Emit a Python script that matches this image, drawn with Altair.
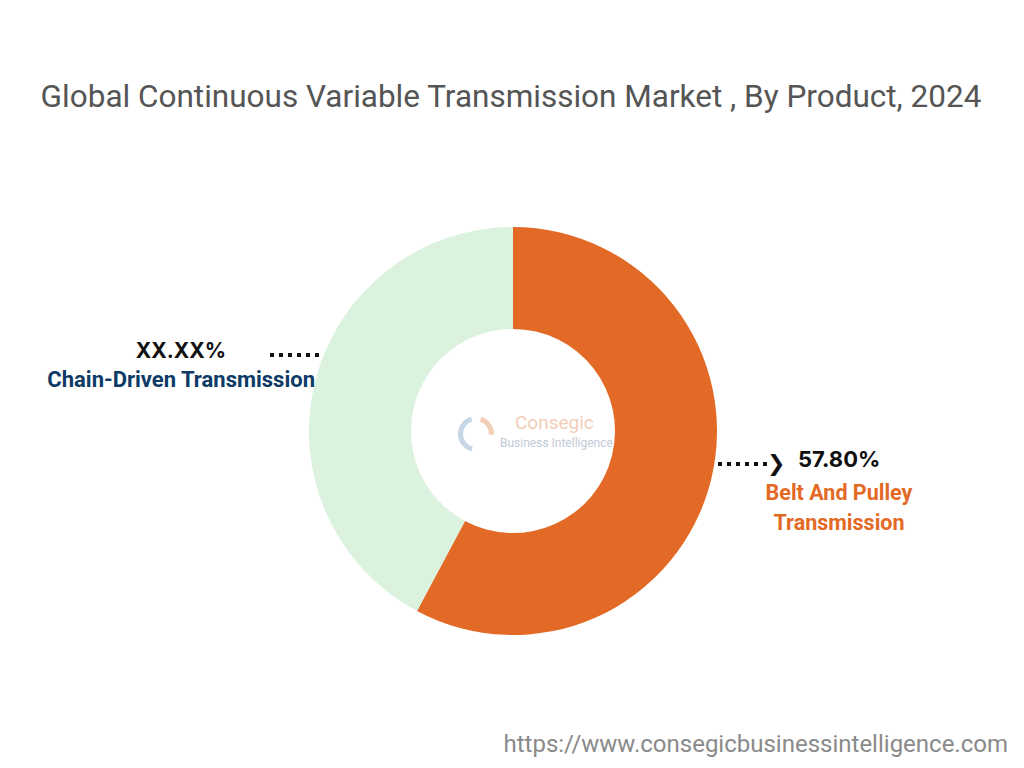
import altair as alt
import pandas as pd

categories = ["Belt And Pulley Transmission", "Chain-Driven Transmission"]
values = [57.80, 42.20]
colors = ["#E36A26", "#DBF2DF"]
order = [1, 2]

df = pd.DataFrame({"category": categories, "value": values, "order": order})

W, H = 1024, 768
CX, CY = 513, 431

donut = alt.Chart(df).mark_arc(outerRadius=204, innerRadius=102).encode(
    theta=alt.Theta("value:Q", stack=True),
    order=alt.Order("order:Q"),
    color=alt.Color("category:N", scale=alt.Scale(domain=categories, range=colors), legend=None),
    x=alt.value(CX), y=alt.value(CY),
)

def txt(text, x, y, size, color, weight="normal", font="Roboto", align="left"):
    d = pd.DataFrame({"t": [text]})
    return alt.Chart(d).mark_text(
        fontSize=size, color=color, fontWeight=weight, font=font, align=align, baseline="middle"
    ).encode(text="t:N", x=alt.value(x), y=alt.value(y))

title = txt("Global Continuous Variable Transmission Market , By Product, 2024", 511, 98, 31.5, "#555555", font="Roboto", align="center")

left_pct = txt("XX.XX%", 226, 352, 21, "#111111", weight="bold", font="Inter", align="right")
left_lab = txt("Chain-Driven Transmission", 315, 380, 22, "#0D3B66", weight="bold", font="Roboto", align="right")
right_pct = txt("57.80%", 798, 460, 22, "#111111", weight="bold", font="Inter")
right_lab1 = txt("Belt And Pulley", 839, 494, 21.5, "#E36A26", weight="bold", font="Roboto", align="center")
right_lab2 = txt("Transmission", 839, 524, 21.5, "#E36A26", weight="bold", font="Roboto", align="center")

dots_l = alt.Chart(pd.DataFrame({"a": [0]})).mark_rule(
    color="#111111", strokeWidth=4, strokeDash=[4, 5]
).encode(x=alt.value(270), x2=alt.value(322), y=alt.value(355))
dots_r = alt.Chart(pd.DataFrame({"a": [0]})).mark_rule(
    color="#111111", strokeWidth=4, strokeDash=[4, 5]
).encode(x=alt.value(718), x2=alt.value(768), y=alt.value(464))
arrow = txt("\u276F", 767, 464, 22, "#111111", weight="bold", font="DejaVu Sans")

logo_c = txt("Consegic", 515, 423, 19, "#F2CDB7", font="Roboto")
logo_b = txt("Business Intelligence", 500, 443, 12, "#BFCAD6", font="Roboto")
logo_ring = alt.Chart(pd.DataFrame({"a": [0]})).mark_arc(
    innerRadius=13, outerRadius=18, theta=3.4, theta2=6.0, color="#C7D6E4"
).encode(x=alt.value(476), y=alt.value(434))
logo_ring2 = alt.Chart(pd.DataFrame({"a": [0]})).mark_arc(
    innerRadius=13, outerRadius=18, theta=0.3, theta2=1.6, color="#F2CDB7"
).encode(x=alt.value(476), y=alt.value(434))

url = txt("https://www.consegicbusinessintelligence.com", 1008, 745, 24, "#8A8A8A", font="Roboto", align="right")

chart = alt.layer(
    donut, title, left_pct, left_lab, right_pct, right_lab1, right_lab2,
    dots_l, dots_r, arrow, logo_ring, logo_ring2, logo_c, logo_b, url
).properties(width=W, height=H, padding=0, autosize="none").configure_view(stroke=None)

chart.save("out.html", embed_options={"renderer": "svg", "actions": False})
